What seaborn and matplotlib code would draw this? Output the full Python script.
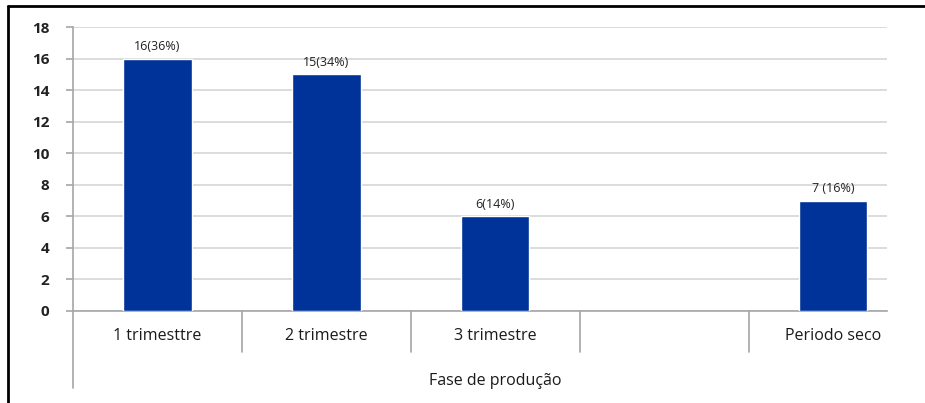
import numpy as np
import pandas as pd
import seaborn as sns
import matplotlib
matplotlib.use("Agg")
import matplotlib.pyplot as plt
from matplotlib.lines import Line2D

# Data
categories = ["1 trimesttre", "2 trimestre", "3 trimestre", " ", "Periodo seco"]
counts = [16, 15, 6, None, 7]
percents = [36, 34, 14, None, 16]
label_fmt = ["{}({}%)", "{}({}%)", "{}({}%)", None, "{} ({}%)"]
y_ticks = [0, 2, 4, 6, 8, 10, 12, 14, 16, 18]
x_title = "Fase de produção"

sns.set_theme(style="white")
plt.rcParams["font.family"] = ["Open Sans", "DejaVu Sans"]

df = pd.DataFrame({"fase": categories, "n": counts}).dropna()

fig = plt.figure(figsize=(9.25, 4.03), dpi=100)
ax = fig.add_axes([73 / 925, 92 / 403, (887 - 73) / 925, (376 - 92) / 403])

sns.barplot(data=df, x="fase", y="n", order=categories, color="#003399",
            saturation=1, width=0.405, ax=ax, zorder=3)

ax.set_ylim(0, 18)
ax.set_xlim(-0.5, 4.32)
ax.set_yticks(y_ticks)
ax.set_yticklabels([str(t) for t in y_ticks], fontsize=11, fontweight="bold",
                   color="#222222")
ax.yaxis.grid(True, color="#d9d9d9", linewidth=1.3, zorder=0)
ax.xaxis.grid(False)
for s in ["top", "right"]:
    ax.spines[s].set_visible(False)
for s in ["left", "bottom"]:
    ax.spines[s].set_color("#a6a6a6")
    ax.spines[s].set_linewidth(1.2)
ax.tick_params(axis="y", which="both", left=True, length=5, width=1.2,
               color="#a6a6a6", pad=12)
ax.tick_params(axis="x", bottom=False, length=0, pad=12)
ax.set_xticks(range(len(categories)))
ax.set_xticklabels(categories, fontsize=11.5, color="#1a1a1a")
ax.set_xlabel("")
ax.set_ylabel("")

# Value labels above bars
for i, (c, p, f) in enumerate(zip(counts, percents, label_fmt)):
    if c is None:
        continue
    ax.annotate(f.format(c, p), (i, c), xytext=(0, 4), textcoords="offset points",
                ha="center", va="bottom", fontsize=9, color="#222222")

# Category dividers and extended value axis (multi-level category axis)
tr = ax.get_xaxis_transform()
for xd in [0.5, 1.5, 2.5, 3.5]:
    ax.add_line(Line2D([xd, xd], [0, -0.145], transform=tr, color="#a6a6a6",
                       linewidth=1.2, clip_on=False))
ax.add_line(Line2D([-0.5, -0.5], [0, -0.27], transform=tr, color="#a6a6a6",
                   linewidth=1.2, clip_on=False))
ax.text(2.0, -0.245, x_title, transform=tr, ha="center", va="center",
        fontsize=11.5, color="#1a1a1a")

# Outer frame (left and top edges)
fig.add_artist(Line2D([8 / 925, 8 / 925], [0, 1 - 6 / 403], transform=fig.transFigure,
                      color="black", linewidth=2))
fig.add_artist(Line2D([8 / 925, 1], [1 - 6 / 403, 1 - 6 / 403], transform=fig.transFigure,
                      color="black", linewidth=2))

fig.savefig("out.png", dpi=100)
